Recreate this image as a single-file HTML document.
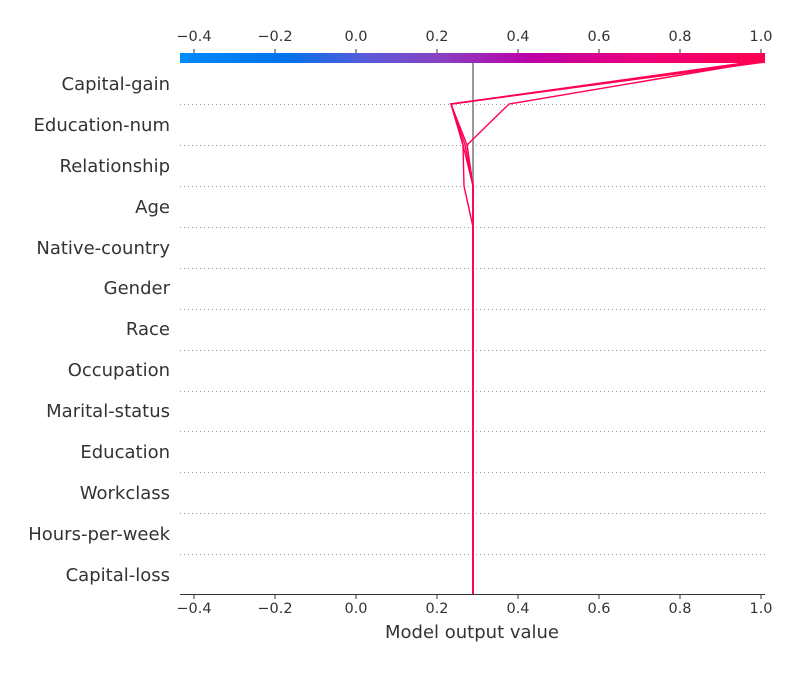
<!DOCTYPE html>
<html><head><meta charset="utf-8"><style>
body{margin:0;background:#fff}
svg text{font-family:"DejaVu Sans","Liberation Sans",sans-serif;fill:#333}
</style></head><body>
<svg width="800" height="670" xmlns="http://www.w3.org/2000/svg">
<defs><linearGradient id="g" x1="0" x2="1" y1="0" y2="0">
<stop offset="0" stop-color="#008bfb"/><stop offset="0.18" stop-color="#0072ea"/>
<stop offset="0.32" stop-color="#5a5ad8"/><stop offset="0.45" stop-color="#8a40c0"/>
<stop offset="0.6" stop-color="#bc00a8"/><stop offset="0.8" stop-color="#ee0078"/>
<stop offset="1" stop-color="#ff0052"/></linearGradient></defs>
<rect x="180" y="53" width="585" height="10" fill="url(#g)"/>
<g stroke="#333" stroke-width="1">
<line x1="194" y1="49" x2="194" y2="53"/><line x1="275" y1="49" x2="275" y2="53"/><line x1="356" y1="49" x2="356" y2="53"/><line x1="437" y1="49" x2="437" y2="53"/><line x1="518" y1="49" x2="518" y2="53"/><line x1="599" y1="49" x2="599" y2="53"/><line x1="680" y1="49" x2="680" y2="53"/><line x1="761" y1="49" x2="761" y2="53"/>
<line x1="180" y1="594.5" x2="765" y2="594.5"/>
<line x1="194" y1="594" x2="194" y2="599"/><line x1="275" y1="594" x2="275" y2="599"/><line x1="356" y1="594" x2="356" y2="599"/><line x1="437" y1="594" x2="437" y2="599"/><line x1="518" y1="594" x2="518" y2="599"/><line x1="599" y1="594" x2="599" y2="599"/><line x1="680" y1="594" x2="680" y2="599"/><line x1="761" y1="594" x2="761" y2="599"/>
</g>
<g font-size="14.5" text-anchor="middle">
<text x="194" y="41">−0.4</text><text x="275" y="41">−0.2</text><text x="356" y="41">0.0</text><text x="437" y="41">0.2</text><text x="518" y="41">0.4</text><text x="599" y="41">0.6</text><text x="680" y="41">0.8</text><text x="761" y="41">1.0</text>
<text x="194" y="613">−0.4</text><text x="275" y="613">−0.2</text><text x="356" y="613">0.0</text><text x="437" y="613">0.2</text><text x="518" y="613">0.4</text><text x="599" y="613">0.6</text><text x="680" y="613">0.8</text><text x="761" y="613">1.0</text>
<text x="472" y="638" font-size="18">Model output value</text>
</g>
<g stroke="#999" stroke-width="1" stroke-dasharray="1,3">
<line x1="180" y1="104.5" x2="765" y2="104.5"/><line x1="180" y1="145.5" x2="765" y2="145.5"/><line x1="180" y1="186.5" x2="765" y2="186.5"/><line x1="180" y1="227.5" x2="765" y2="227.5"/><line x1="180" y1="268.5" x2="765" y2="268.5"/><line x1="180" y1="309.5" x2="765" y2="309.5"/><line x1="180" y1="350.5" x2="765" y2="350.5"/><line x1="180" y1="391.5" x2="765" y2="391.5"/><line x1="180" y1="431.5" x2="765" y2="431.5"/><line x1="180" y1="472.5" x2="765" y2="472.5"/><line x1="180" y1="513.5" x2="765" y2="513.5"/><line x1="180" y1="554.5" x2="765" y2="554.5"/>
</g>
<g font-size="18" text-anchor="end">
<text x="170" y="90">Capital-gain</text><text x="170" y="131">Education-num</text><text x="170" y="172">Relationship</text><text x="170" y="213">Age</text><text x="170" y="254">Native-country</text><text x="170" y="294">Gender</text><text x="170" y="335">Race</text><text x="170" y="376">Occupation</text><text x="170" y="417">Marital-status</text><text x="170" y="458">Education</text><text x="170" y="499">Workclass</text><text x="170" y="540">Hours-per-week</text><text x="170" y="581">Capital-loss</text>
</g>
<line x1="473" y1="63" x2="473" y2="594" stroke="#999" stroke-width="2"/>
<g fill="none" stroke="#ff0052" stroke-width="1.4">
<polyline points="473,594 473,227 473,186 463,145 451,104 765,62"/>
<polyline points="473,594 473,227 473,186 465,145 451,104 762,62"/>
<polyline points="473,594 473,227 473,186 467,145 451,104 760,62"/>
<polyline points="473,594 473,227 464,186 463,145 451,104 765,60"/>
<polyline points="473,594 473,227 473,186 467,145 509,104 758,62"/>
</g>
</svg>
</body></html>
